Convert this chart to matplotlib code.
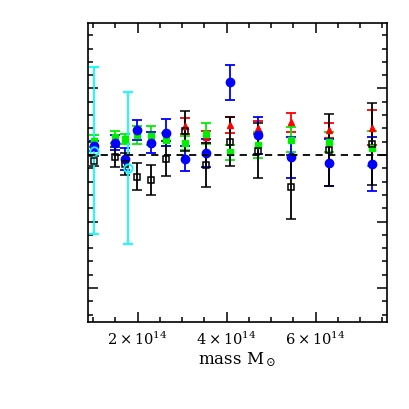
import numpy as np
import matplotlib
matplotlib.use("Agg")
from matplotlib import pyplot as plt
from matplotlib.ticker import MultipleLocator, FixedLocator

plt.rcParams['font.family'] = ['DejaVu Serif']
plt.rcParams['mathtext.fontset'] = 'dejavuserif'

# mass bins (in 1e14 M_sun)
mass = np.array([1.02, 1.48, 1.71, 1.98, 2.30, 2.64, 3.06, 3.53, 4.07, 4.71, 5.44, 6.29, 7.26])

# red triangles (only upper bins)
red_mass = mass[6:]
red_y = [0.044, 0.027, 0.045, 0.041, 0.049, 0.037, 0.041]
red_err = [0.012, 0.009, 0.012, 0.010, 0.014, 0.011, 0.026]

# green filled squares
green_y = [0.021, 0.027, 0.024, 0.030, 0.029, 0.023, 0.018, 0.032, 0.004, 0.015, 0.023, 0.020, 0.010]
green_err = [0.009, 0.0095, 0.008, 0.014, 0.014, 0.010, 0.011, 0.016, 0.011, 0.020, 0.019, 0.015, 0.026]

# blue filled circles
blue_y = [0.0135, 0.0185, -0.006, 0.0376, 0.0185, 0.0335, -0.0056, 0.0035, 0.109, 0.0296, -0.0035, -0.0116, -0.0135]
blue_err = [0.008, 0.011, 0.016, 0.015, 0.016, 0.0205, 0.019, 0.021, 0.026, 0.028, 0.031, 0.035, 0.041]

# black open squares
black_y = [-0.009, -0.0026, -0.0135, -0.0326, -0.0376, -0.0056, 0.0365, -0.0155, 0.020, 0.0065, -0.0486, 0.0075, 0.0165]
black_err = [0.0075, 0.015, 0.016, 0.0205, 0.022, 0.026, 0.030, 0.033, 0.037, 0.041, 0.048, 0.054, 0.062]

# cyan open circles
cyan_mass = [1.03, 1.79]
cyan_y = [0.0065, -0.020]
cyan_err = [0.125, 0.114]

fig = plt.figure(figsize=(4.09, 4.09), dpi=100)
ax = fig.add_axes([0.215, 0.2127, 0.731, 0.7313])

eb = dict(linestyle='none', elinewidth=1.3, capsize=3.8, capthick=1.3)
ax.errorbar(red_mass * 1e14, red_y, yerr=red_err, color='red', marker='^', ms=5, **eb)
ax.errorbar(mass * 1e14, green_y, yerr=green_err, color='#00ee00', marker='s', ms=4, **eb)
ax.errorbar(mass * 1e14, blue_y, yerr=blue_err, color='blue', marker='o', ms=6, **eb)
ax.errorbar(mass * 1e14, black_y, yerr=black_err, color='black', marker='s', ms=5,
            mfc='none', mew=1.1, **eb)
ax.errorbar(np.array(cyan_mass) * 1e14, cyan_y, yerr=cyan_err, color='cyan', marker='o', ms=6,
            mfc='none', mew=1.3, **eb)

ax.axhline(0, color='black', ls=(0, (4, 3)), lw=1.3, zorder=5)

ax.set_xlim(0.883e14, 7.60e14)
ax.set_ylim(-0.251, 0.1985)

ax.xaxis.set_major_locator(FixedLocator([2e14, 4e14, 6e14]))
ax.xaxis.set_minor_locator(MultipleLocator(0.5e14))
ax.set_xticklabels([r'$2\times10^{14}$', r'$4\times10^{14}$', r'$6\times10^{14}$'])
ax.yaxis.set_major_locator(MultipleLocator(0.1))
ax.yaxis.set_minor_locator(MultipleLocator(0.02))
ax.set_yticklabels([])
ax.tick_params(which='both', direction='in', top=True, right=True, width=1.1)
ax.tick_params(which='major', length=7, labelsize=10.5, pad=6)
ax.tick_params(which='minor', length=3.6)
for s in ax.spines.values():
    s.set_linewidth(1.2)

ax.set_xlabel(r'mass M$_\odot$', fontsize=12, labelpad=2)

plt.savefig('out.png', dpi=100)
